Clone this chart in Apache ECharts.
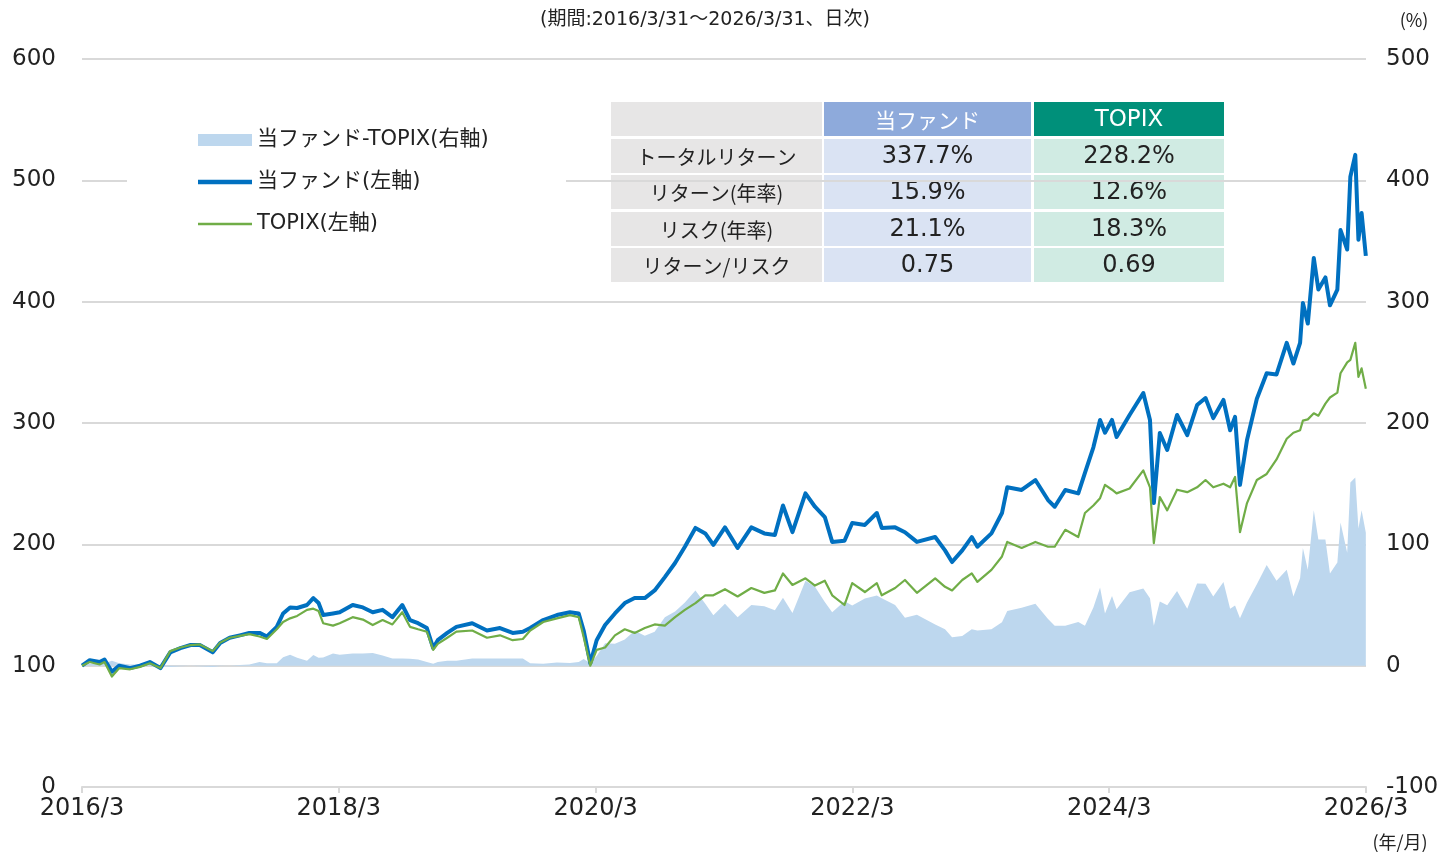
<!DOCTYPE html>
<html>
<head>
<meta charset="utf-8">
<script src="https://cdn.jsdelivr.net/npm/echarts@6/dist/echarts.min.js"></script>
<style>
  html, body { margin: 0; padding: 0; background: #fff; }
  .chart { width: 1442px; height: 852px; }
</style>
</head>
<body>
<div class="chart"></div>
<script>
const dates = [
  '2016/03/31', '2016/04/22', '2016/05/20', '2016/06/03', '2016/06/24', '2016/07/15', '2016/08/15', '2016/09/12',
  '2016/10/10', '2016/11/09', '2016/12/07', '2017/01/05', '2017/02/03', '2017/03/01', '2017/04/07', '2017/04/28',
  '2017/05/25', '2017/06/23', '2017/07/20', '2017/08/18', '2017/09/08', '2017/10/06', '2017/10/24', '2017/11/13',
  '2017/12/03', '2017/12/31', '2018/01/18', '2018/02/02', '2018/02/15', '2018/03/15', '2018/04/03', '2018/05/10',
  '2018/06/08', '2018/07/06', '2018/08/03', '2018/08/31', '2018/09/28', '2018/10/20', '2018/11/12', '2018/12/07',
  '2018/12/25', '2019/01/07', '2019/02/03', '2019/03/01', '2019/04/15', '2019/05/27', '2019/07/03', '2019/08/08',
  '2019/09/06', '2019/09/27', '2019/11/03', '2019/12/12', '2020/01/18', '2020/02/12', '2020/02/26', '2020/03/16',
  '2020/04/03', '2020/04/27', '2020/05/25', '2020/06/22', '2020/07/20', '2020/08/18', '2020/09/15', '2020/10/14',
  '2020/11/12', '2020/12/10', '2021/01/09', '2021/02/06', '2021/03/01', '2021/04/03', '2021/05/09', '2021/06/17',
  '2021/07/24', '2021/08/23', '2021/09/15', '2021/10/12', '2021/11/18', '2021/12/15', '2022/01/12', '2022/02/02',
  '2022/03/09', '2022/03/31', '2022/05/06', '2022/06/09', '2022/06/23', '2022/07/31', '2022/08/28', '2022/10/01',
  '2022/11/22', '2022/12/20', '2023/01/09', '2023/02/07', '2023/03/06', '2023/03/22', '2023/05/01', '2023/05/31',
  '2023/06/15', '2023/07/26', '2023/09/03', '2023/10/09', '2023/10/28', '2023/11/27', '2024/01/03', '2024/01/22',
  '2024/02/15', '2024/03/05', '2024/03/19', '2024/04/08', '2024/04/21', '2024/05/28', '2024/07/06', '2024/07/25',
  '2024/08/05', '2024/08/22', '2024/09/12', '2024/10/10', '2024/11/08', '2024/12/06', '2024/12/30', '2025/01/21',
  '2025/02/19', '2025/03/10', '2025/03/24', '2025/04/07', '2025/04/27', '2025/05/25', '2025/06/22', '2025/07/20',
  '2025/08/18', '2025/09/06', '2025/09/25', '2025/10/03', '2025/10/17', '2025/11/03', '2025/11/16', '2025/12/06',
  '2025/12/19', '2026/01/09', '2026/01/18', '2026/02/06', '2026/02/15', '2026/03/01', '2026/03/10', '2026/03/19',
  '2026/03/31'
]

// 当ファンド (left axis)
const fund = [
  100, 104.5, 103, 105, 95, 100, 98, 100,
  103, 98, 111, 114.5, 117, 117, 111, 118.7,
  123, 125, 127, 127, 124, 132, 143, 148,
  147.5, 150, 155.7, 151.6, 141.7, 143, 144, 150,
  148, 144, 146, 140, 150, 137.6, 135, 131,
  114.5, 121, 127, 132, 135, 129, 131, 127,
  128, 131, 137.6, 141.7, 144, 143, 129, 102,
  121, 133.5, 143, 151.6, 155.7, 155.7, 162, 173,
  184.6, 198, 213.5, 209, 199.5, 214, 197, 214,
  209, 207.7, 232, 210, 242, 231, 222.5, 202,
  203, 217.6, 216, 225.8, 213.5, 214, 210, 202,
  206, 195, 185.4, 195, 206, 198, 209, 225.8,
  247, 244.8, 253, 236.5, 231, 244.8, 242, 258.8,
  280, 302.5, 292, 302.5, 288.5, 306.6, 324.7, 302.5,
  234, 291.8, 277.8, 306.6, 290, 314.8, 320.6, 304,
  319, 294, 305, 249, 286, 320, 341, 340,
  366, 349, 366, 399, 382, 436, 410, 420,
  397, 410, 459, 443, 503, 521, 451, 473,
  437.7
]

// TOPIX (left axis)
const topix = [
  100, 103, 101, 103, 91, 98, 97, 99,
  102, 98, 112, 115, 117, 117.5, 112, 119,
  123, 124.5, 126, 124, 122, 130, 136, 139,
  141, 146, 147, 145, 135, 133, 135, 140,
  138, 133.5, 137.6, 134, 144, 132, 130, 128,
  113, 118, 123, 128, 129, 123, 125, 121,
  122, 129, 136, 139, 141.7, 140, 123.6, 100,
  113, 115, 125, 130, 127, 131, 134, 133,
  140, 146, 151.6, 158, 158, 163, 157, 164,
  160, 162, 176, 166.5, 172, 166, 170, 158,
  150, 168, 160.7, 168, 158, 164, 170.6, 160,
  172, 165, 162, 170.6, 176, 169, 179, 190,
  202, 197, 202, 198, 198, 212, 206, 225.8,
  232, 238, 249, 245, 242, 246, 261, 247,
  201, 239, 228, 245, 243, 247, 253, 247,
  250, 247, 255.5, 210, 234, 253, 258, 270,
  287, 292, 294, 302, 303, 308, 306, 316,
  321, 325, 341, 350, 352, 366, 338, 345,
  328.2
]

const xTickLabels = ['2016/3', '2018/3', '2020/3', '2022/3', '2024/3', '2026/3']

const statLabels = ['トータルリターン', 'リターン(年率)', 'リスク(年率)', 'リターン/リスク']
const fundStats = ['337.7%', '15.9%', '21.1%', '0.75']
const topixStats = ['228.2%', '12.6%', '18.3%', '0.69']

const areaName = '当ファンド-TOPIX(右軸)'
const fundName = '当ファンド(左軸)'
const topixName = 'TOPIX(左軸)'

const latinFont = "'DejaVu Sans', 'Noto Sans CJK JP', sans-serif"
const jpFont = "'Noto Sans CJK JP', sans-serif"

const start = Date.UTC(2016, 2, 31)
const toMonths = d => {
  const [y, m, day] = d.split('/').map(Number)
  return (Date.UTC(y, m - 1, day) - start) / 86400000 / 365.25 * 12
}
const xs = dates.map(toMonths)

// table drawn as graphic cells
const cols = [{ x: 611, w: 211 }, { x: 824, w: 207 }, { x: 1034, w: 190 }]
const rowTops = [102, 139, 175, 212, 248]
const rowH = 34
const headFill = ['#e7e6e6', '#8eaadb', '#00907a']
const bodyFill = ['#e7e6e6', '#dae3f3', '#d0ebe3']

const tableCells = [{ type: 'rect', shape: { x: 608, y: 100, width: 619, height: 185 }, style: { fill: '#fff' } }]
rowTops.forEach((top, r) => {
  cols.forEach((c, i) => {
    tableCells.push({
      type: 'rect',
      shape: { x: c.x, y: top, width: c.w, height: rowH },
      style: { fill: r === 0 ? headFill[i] : bodyFill[i] }
    })
  })
})
const cellText = (text, c, r, size, family, fill) => ({
  type: 'text',
  x: c.x + c.w / 2,
  y: rowTops[r] + rowH / 2 + 1,
  style: { text, fontSize: size, fontFamily: family, fill, align: 'center', verticalAlign: 'middle' }
})
tableCells.push(cellText('当ファンド', cols[1], 0, 21, jpFont, '#fff'))
tableCells.push(cellText('TOPIX', cols[2], 0, 23, latinFont, '#fff'))
statLabels.forEach((s, i) => {
  tableCells.push(cellText(s, cols[0], i + 1, 20, jpFont, '#222'))
  tableCells.push(cellText(fundStats[i], cols[1], i + 1, 24, latinFont, '#222'))
  tableCells.push(cellText(topixStats[i], cols[2], i + 1, 24, latinFont, '#222'))
})

const chart = echarts.init(document.querySelector('.chart'))
chart.setOption({
  animation: false,
  backgroundColor: '#fff',
  grid: { left: 82, right: 76, top: 59, bottom: 65, containLabel: false, outerBoundsMode: 'none' },
  legend: {
    orient: 'vertical',
    left: 198,
    top: 128,
    padding: 0,
    itemWidth: 54,
    itemHeight: 12,
    itemGap: 18,
    selectedMode: false,
    data: [
      { name: areaName, icon: 'rect' },
      { name: fundName, icon: 'path://M0,0H54V4.5H0Z' },
      { name: topixName, icon: 'path://M0,0H54V2.5H0Z' }
    ],
    textStyle: { fontSize: 21, fontFamily: latinFont, color: '#222', lineHeight: 24 }
  },
  xAxis: {
    type: 'value',
    min: 0,
    max: 120,
    interval: 24,
    axisLine: { lineStyle: { color: '#d9d9d9', width: 2 } },
    axisTick: { show: true, length: 6, lineStyle: { color: '#d9d9d9', width: 2 } },
    splitLine: { show: false },
    axisLabel: {
      margin: 10,
      fontSize: 24,
      fontFamily: latinFont,
      color: '#222',
      formatter: v => xTickLabels[Math.round(v / 24)]
    }
  },
  yAxis: [
    {
      type: 'value',
      min: 0,
      max: 600,
      interval: 100,
      axisLine: { show: false },
      axisTick: { show: false },
      splitLine: { lineStyle: { color: '#d9d9d9', width: 2 } },
      axisLabel: { margin: 26, fontSize: 23, fontFamily: latinFont, color: '#222' }
    },
    {
      type: 'value',
      position: 'right',
      min: -100,
      max: 500,
      interval: 100,
      axisLine: { show: false },
      axisTick: { show: false },
      splitLine: { show: false },
      axisLabel: { margin: 20, fontSize: 23, fontFamily: latinFont, color: '#222' }
    }
  ],
  series: [
    {
      name: areaName,
      type: 'line',
      yAxisIndex: 1,
      symbol: 'none',
      data: xs.map((x, i) => [x, +(fund[i] - topix[i]).toFixed(1)]),
      lineStyle: { width: 0, color: '#bdd7ee' },
      itemStyle: { color: '#bdd7ee' },
      areaStyle: { color: '#bdd7ee', opacity: 1 }
    },
    {
      name: fundName,
      type: 'line',
      yAxisIndex: 0,
      symbol: 'none',
      data: xs.map((x, i) => [x, fund[i]]),
      lineStyle: { width: 4, color: '#0070c0', join: 'round' },
      itemStyle: { color: '#0070c0' }
    },
    {
      name: topixName,
      type: 'line',
      yAxisIndex: 0,
      symbol: 'none',
      data: xs.map((x, i) => [x, topix[i]]),
      lineStyle: { width: 2.2, color: '#70ad47', join: 'round' },
      itemStyle: { color: '#70ad47' }
    }
  ],
  graphic: [
    { type: 'rect', z: 1, shape: { x: 127, y: 108, width: 439, height: 140 }, style: { fill: '#fff' } },
    { type: 'group', z: 10, children: tableCells },
    {
      type: 'text', z: 10, x: 705, y: 20,
      style: { text: '(期間:2016/3/31～2026/3/31、日次)', fontSize: 19, fontFamily: latinFont, fill: '#222', align: 'center', verticalAlign: 'middle' }
    },
    {
      type: 'text', z: 10, x: 1414, y: 20,
      style: { text: '(%)', fontSize: 18, fontFamily: jpFont, fill: '#222', align: 'center', verticalAlign: 'middle' }
    },
    {
      type: 'text', z: 10, x: 1400, y: 842,
      style: { text: '(年/月)', fontSize: 18, fontFamily: jpFont, fill: '#222', align: 'center', verticalAlign: 'middle' }
    }
  ]
})
</script>
</body>
</html>
